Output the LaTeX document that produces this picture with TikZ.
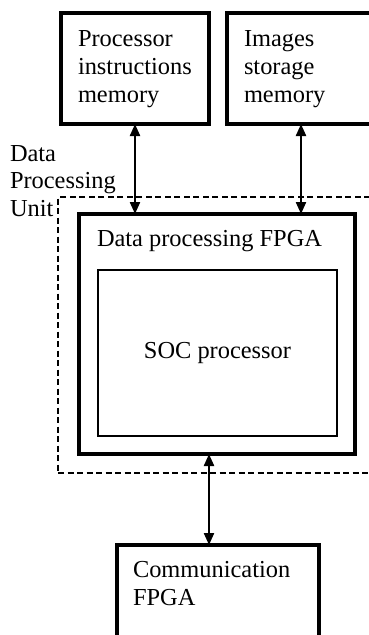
\documentclass[tikz,border=0pt]{standalone}
\usepackage{fontspec}
\setmainfont{Liberation Serif}
\usetikzlibrary{arrows.meta}
\begin{document}
\begin{tikzpicture}[x=1pt,y=-1pt,
  box/.style={draw, line width=3.2pt, inner sep=0pt, outer sep=0pt},
  txt/.style={inner sep=0pt, outer sep=0pt, align=left, font=\fontsize{24.4}{27.7}\selectfont},
  conn/.style={line width=2.2pt, {Triangle[length=12pt,width=10pt]}-{Triangle[length=12pt,width=10pt]}},
  dpubox/.style={draw, line width=1.3pt, dash pattern=on 6pt off 3.5pt, inner sep=0pt, outer sep=0pt}]
\useasboundingbox (0,0) rectangle (369,635);
\node[box, minimum width=148pt, minimum height=111pt] (pim) at (135,68.5) {};
\node[box, minimum width=148pt, minimum height=111pt] (ism) at (301,68.5) {};
\node[dpubox, minimum width=322pt, minimum height=276pt] (dpu) at (219,335) {};
\node[box, minimum width=276pt, minimum height=240pt] (fpga) at (217,334) {};
\node[draw, line width=1.3pt, inner sep=0pt, outer sep=0pt, minimum width=239pt, minimum height=166pt] (soc) at (217.5,353) {};
\node[box, minimum width=202pt, minimum height=120pt] (comm) at (218,605) {};
\coordinate (cx) at (209,0);
\draw[conn] (pim.south) -- (pim.south |- fpga.north);
\draw[conn] (ism.south) -- (ism.south |- fpga.north);
\draw[conn] (fpga.south -| cx) -- (comm.north -| cx);
\node[txt, anchor=base west] (pimtext) at (78,102.2) {Processor\\instructions\\memory};
\node[txt, anchor=base west] (ismtext) at (244,102.2) {Images\\storage\\memory};
\node[txt, anchor=base west] (dputext) at (10,216.5) {Data\\Processing\\Unit};
\node[txt, anchor=base west] (fpgatext) at (97,246.7) {Data processing FPGA};
\node[txt, anchor=base] (soctext) at (217.5,358) {SOC processor};
\node[txt, anchor=base west] (commtext) at (133,605) {Communication\\FPGA};
\end{tikzpicture}
\end{document}
